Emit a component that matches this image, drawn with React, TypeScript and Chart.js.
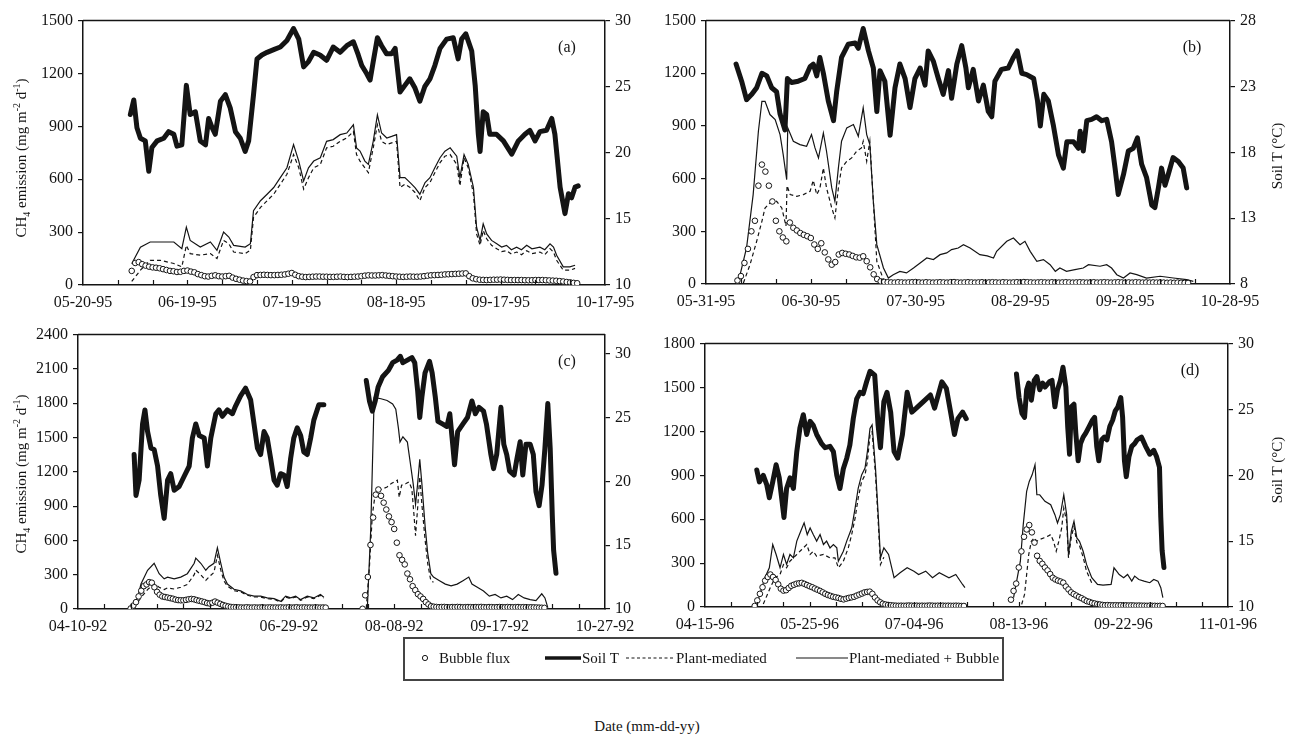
import React, { useEffect, useRef } from "react";
import { Chart, registerables } from "chart.js";

Chart.register(...registerables);

type Pt = [number, number | null];

// ---------------- Panel (a) ----------------
const aDates = ["05-20-95", "06-19-95", "07-19-95", "08-18-95", "09-17-95", "10-17-95"];
const aFluxTicks = [0, 300, 600, 900, 1200, 1500];
const aTempTicks = [10, 15, 20, 25, 30];
const aSoilT: Pt[] = [[13.6,22.9],[14.6,24.0],[15.5,21.9],[16.5,21.1],[17.9,20.9],[18.9,18.6],[19.8,20.4],[21.3,20.9],[23.2,21.1],[24.6,21.6],[26.1,21.4],[27.0,20.5],[28.4,20.6],[29.7,25.1],[30.8,22.9],[32.3,23.1],[33.7,20.9],[35.2,20.6],[36.1,22.6],[37.1,21.9],[38.0,21.4],[39.5,23.9],[40.9,24.4],[42.3,23.4],[43.8,21.6],[45.2,21.1],[46.6,20.1],[47.6,20.9],[49.0,24.4],[50.0,27.1],[51.4,27.4],[52.9,27.6],[54.8,27.8],[56.7,28.0],[58.6,28.5],[60.5,29.4],[62.0,28.6],[63.4,26.5],[64.8,26.9],[66.3,27.6],[68.1,27.4],[70.0,27.0],[71.9,28.0],[73.9,27.6],[75.8,28.1],[77.7,28.4],[79.1,27.4],[80.1,26.6],[81.5,26.0],[82.5,25.5],[83.4,26.9],[84.6,28.7],[85.8,28.1],[87.2,27.5],[88.7,27.5],[89.7,27.9],[91.1,24.6],[92.5,25.1],[93.9,25.6],[95.4,24.9],[96.8,23.9],[98.2,25.0],[99.7,25.6],[101.1,26.6],[102.6,27.9],[104.5,28.6],[106.4,28.7],[107.8,27.1],[108.8,28.6],[110.0,29.0],[111.7,27.7],[112.7,25.1],[113.6,21.4],[114.1,20.1],[115.0,23.1],[116.0,22.9],[116.9,21.4],[118.8,21.4],[120.8,20.9],[123.2,19.9],[125.1,20.9],[127.0,21.4],[128.4,21.7],[129.9,20.9],[131.3,21.6],[133.2,21.7],[134.7,22.6],[135.6,21.4],[137.1,17.4],[138.5,15.4],[139.5,16.9],[140.4,16.6],[141.4,17.4],[142.3,17.5]];
const aPlantBubble: Pt[] = [[14,120],[16.5,215],[19.3,244],[22.2,244],[26.1,244],[28.4,206],[29.7,328],[30.8,253],[33.7,215],[36.6,244],[38.5,197],[40.4,300],[41.9,272],[43.3,225],[46.6,215],[48.1,234],[49.0,422],[51.0,478],[52.9,515],[54.8,553],[56.7,609],[58.6,665],[60.5,797],[62.0,703],[63.4,590],[64.8,665],[66.3,703],[68.2,722],[70.0,815],[71.9,825],[73.9,853],[75.8,862],[77.7,909],[78.6,778],[79.6,760],[81.0,703],[82.0,684],[83.4,815],[84.6,965],[85.8,862],[87.3,834],[88.7,843],[90.1,853],[91.1,609],[92.5,609],[94.0,581],[95.4,553],[96.8,515],[98.3,581],[99.7,609],[101.1,665],[102.6,722],[104.0,759],[105.5,778],[107.4,731],[108.3,609],[109.5,740],[110.7,684],[112.2,553],[113.1,328],[114.1,253],[115.0,347],[116.0,290],[117.4,253],[118.9,234],[120.3,215],[121.7,225],[123.1,200],[124.6,215],[126.0,200],[127.5,225],[129.0,205],[131.3,215],[132.7,200],[134.2,234],[135.2,215],[136.1,169],[138.0,103],[139.9,103],[141.4,112]];
const aPlant: Pt[] = [[14,20],[16.5,84],[19.3,140],[22.2,140],[26.1,122],[28.4,103],[29.7,225],[30.8,178],[33.7,169],[36.6,178],[38.5,150],[40.4,253],[41.9,234],[43.3,187],[46.6,178],[48.1,197],[49.0,384],[51.0,440],[52.9,478],[54.8,515],[56.7,572],[58.6,628],[60.5,740],[62.0,665],[63.4,544],[64.8,609],[66.3,665],[68.2,684],[70.0,778],[71.9,787],[73.9,815],[75.8,834],[77.7,871],[78.6,740],[79.6,703],[81.0,665],[82.0,637],[83.4,778],[84.6,909],[85.8,815],[87.3,797],[88.7,806],[90.1,815],[91.1,553],[92.5,572],[94.0,553],[95.4,525],[96.8,478],[98.3,553],[99.7,581],[101.1,637],[102.6,694],[104.0,731],[105.5,740],[107.4,684],[108.3,562],[109.5,722],[110.7,665],[112.2,515],[113.1,290],[114.1,225],[115.0,309],[116.0,262],[117.4,225],[118.9,206],[120.3,190],[121.7,195],[123.1,175],[124.6,187],[126.0,172],[127.5,195],[129.0,178],[131.3,187],[132.7,172],[134.2,206],[135.2,187],[136.1,140],[138.0,84],[139.9,84],[141.4,94]];
const aBubbleFirstDay = 14;
const aBubble: (number | null)[] = [80,125,130,118,110,104,100,98,95,90,85,80,78,74,75,80,82,76,72,62,56,50,48,52,55,50,48,50,52,42,35,30,25,22,20,45,56,57,58,57,56,56,57,58,60,64,68,58,50,47,45,46,47,48,48,47,47,46,46,47,48,46,45,46,47,48,50,53,55,54,54,55,56,54,52,50,48,47,46,47,48,47,47,48,50,53,55,56,57,58,60,61,62,63,64,65,66,50,38,33,30,29,28,29,30,30,31,30,29,28,28,28,28,27,27,27,28,28,28,27,26,25,24,22,20,17,15,12,10];

// ---------------- Panel (b) ----------------
const bDates = ["05-31-95", "06-30-95", "07-30-95", "08-29-95", "09-28-95", "10-28-95"];
const bFluxTicks = [0, 300, 600, 900, 1200, 1500];
const bTempTicks = [8, 13, 18, 23, 28];
const bSoilT: Pt[] = [[8.6,24.7],[10.2,23.4],[11.6,22.0],[13.1,22.4],[14.5,22.9],[16.0,24.0],[17.4,23.8],[18.8,22.9],[20.2,22.6],[21.2,20.9],[22.6,19.7],[23.3,23.6],[24.5,23.3],[26.4,23.4],[28.3,23.6],[29.8,24.5],[30.7,24.7],[31.7,23.8],[32.6,25.2],[33.6,24.0],[35.0,21.9],[36.5,20.4],[37.4,22.6],[38.8,25.2],[40.7,26.2],[42.7,26.3],[43.6,25.9],[45.0,27.4],[46.5,25.7],[47.9,24.4],[48.9,21.1],[49.8,24.2],[51.2,23.4],[52.7,19.3],[54.1,22.9],[55.5,24.7],[57.0,23.6],[58.4,21.4],[59.8,23.6],[61.3,24.4],[62.7,23.1],[63.6,25.7],[65.1,24.9],[66.5,23.6],[67.9,22.4],[69.4,24.2],[70.3,22.1],[71.8,24.7],[73.2,26.1],[74.4,24.4],[75.1,22.9],[76.5,24.3],[78.0,21.9],[79.4,23.1],[80.8,21.1],[81.8,20.7],[82.7,23.4],[84.6,24.3],[86.5,24.4],[88.0,25.2],[89.1,25.7],[90.4,24.0],[91.8,23.9],[93.8,23.6],[94.9,21.9],[95.7,20.0],[96.7,22.4],[98.0,21.9],[99.4,20.1],[100.9,17.8],[102.3,16.8],[103.3,18.8],[105.2,18.8],[106.6,18.3],[107.1,19.6],[108.0,18.1],[109.0,20.4],[110.4,20.5],[111.8,20.7],[113.3,20.4],[114.7,20.5],[116.1,18.8],[117.1,16.8],[118.0,14.8],[119.5,16.3],[120.9,18.1],[122.3,18.3],[123.5,19.1],[124.7,17.1],[126.1,16.1],[127.6,14.0],[128.5,13.8],[129.5,15.3],[130.4,16.8],[131.4,15.5],[132.3,16.3],[133.7,17.6],[135.2,17.3],[136.6,16.8],[137.6,15.3]];
const bPlantBubble: Pt[] = [[9.3,15],[11.6,205],[13.5,509],[15.0,870],[16.0,1040],[16.9,1040],[18.3,965],[19.8,936],[21.2,851],[22.1,737],[23.1,594],[23.4,889],[25.0,813],[26.9,794],[28.8,784],[30.2,851],[31.2,775],[32.2,718],[33.6,860],[34.5,756],[36.0,547],[36.9,471],[37.9,661],[38.8,813],[40.3,889],[42.2,908],[43.6,841],[45.0,1003],[46.0,851],[46.9,794],[47.9,471],[48.9,224],[50.8,91],[52.2,34],[53.6,53],[55.5,72],[57.4,63],[59.4,91],[61.3,120],[63.2,148],[65.1,139],[67.0,167],[68.9,177],[70.3,196],[72.2,205],[73.7,224],[75.6,205],[78.4,167],[80.5,160],[82.3,148],[83.2,186],[86.1,243],[88.0,262],[89.9,224],[91.3,243],[92.8,186],[94.7,129],[96.6,139],[98.5,110],[100.0,72],[101.3,91],[103.2,72],[105.6,82],[108.0,91],[109.5,110],[112.8,101],[114.7,110],[116.1,91],[117.6,53],[119.5,34],[121.4,63],[123.3,53],[126.1,34],[130.0,44],[133.8,34],[137.6,25],[139.5,15]];
const bPlant: Pt[] = [[10.7,6],[12.6,110],[14.5,243],[16.0,357],[16.9,433],[18.3,461],[20.2,471],[21.7,433],[22.9,330],[23.2,560],[24.1,509],[26.0,499],[27.9,509],[29.8,528],[30.7,590],[31.7,509],[32.6,545],[33.6,661],[34.5,547],[36.0,433],[36.9,376],[37.9,547],[38.8,661],[40.3,699],[41.7,718],[43.1,756],[44.5,775],[45.0,813],[46.0,699],[46.9,813],[47.9,471],[48.9,129],[50.8,25],[52.7,6]];
const bBubbleFirstDay = 9;
const bBubble: (number | null)[] = [20,45,120,200,300,360,560,680,640,560,470,360,300,265,243,350,320,305,290,280,272,262,225,200,232,180,140,110,125,168,177,172,168,160,152,150,158,130,95,55,28,15,12,10,9,8,10,9,8,9,10,11,9,8,10,9,8,9,10,9,8,10,11,9,8,9,10,9,8,9,10,8,9,10,9,8,10,9,8,9,10,9,11,10,9,8,9,10,9,8,10,9,8,9,10,9,8,9,10,9,8,9,10,8,9,10,9,8,9,10,9,8,9,8,10,9,8,9,8,9,8,9,8,7,8,7,8,7,6,6];

// ---------------- Panel (c) ----------------
const cDates = ["04-10-92", "05-20-92", "06-29-92", "08-08-92", "09-17-92", "10-27-92"];
const cFluxTicks = [0, 300, 600, 900, 1200, 1500, 1800, 2100, 2400];
const cTempTicks = [10, 15, 20, 25, 30];
const cSoilT: Pt[] = [[21.3,22.1],[22.0,18.9],[23.2,20.1],[24.5,24.5],[25.4,25.6],[26.4,23.9],[27.7,22.6],[28.9,22.5],[30.2,21.2],[31.4,18.9],[32.7,17.1],[34.0,20.1],[35.2,20.6],[36.5,19.3],[38.4,19.6],[40.3,20.4],[42.2,21.2],[43.4,23.4],[44.7,24.5],[46.0,23.6],[47.9,23.4],[49.1,21.2],[50.4,23.4],[52.3,25.3],[53.5,25.6],[54.8,25.1],[56.7,25.6],[58.6,25.3],[59.8,25.9],[61.7,26.7],[63.6,27.3],[65.5,26.4],[66.8,24.5],[68.1,22.6],[69.3,22.1],[70.6,23.9],[71.8,23.4],[73.1,21.8],[74.4,20.1],[75.6,19.7],[76.9,20.6],[78.2,20.5],[79.4,19.6],[80.7,21.8],[81.9,23.4],[83.2,24.2],[84.5,23.6],[85.7,22.3],[87.0,22.1],[88.3,23.4],[89.5,24.8],[91.4,26.0],[93.3,26.0],[100,null],[109.4,27.9],[110.6,26.3],[111.7,25.5],[112.8,26.3],[113.9,27.4],[115.6,28.2],[117.8,28.7],[119.4,29.3],[121.1,29.5],[122.3,29.8],[123.3,29.3],[125.0,29.5],[126.7,29.7],[127.8,29.3],[128.9,27.1],[129.7,25.0],[130.5,26.6],[131.7,28.5],[133.4,29.4],[134.4,28.5],[135.6,26.6],[136.6,24.7],[138.3,24.5],[140.0,24.3],[141.1,25.3],[142.2,22.9],[142.9,21.3],[144.1,23.9],[146.1,24.5],[147.8,25.0],[149.5,26.3],[150.8,25.3],[152.2,25.8],[153.9,25.5],[155.0,24.5],[156.7,22.1],[157.7,21.0],[158.9,22.1],[160.5,25.8],[161.6,22.9],[162.7,22.1],[163.8,20.8],[165.5,20.5],[166.6,21.8],[167.8,23.1],[168.8,20.5],[170.0,22.9],[171.6,22.9],[172.8,22.1],[173.8,19.2],[175.0,18.1],[176.1,19.7],[177.2,22.6],[178.3,26.1],[179.2,22.6],[180.0,17.3],[180.5,14.6],[181.4,12.8]];
const cPlantBubble: Pt[] = [[20.7,15],[22.6,97],[23.9,218],[26.4,339],[28.9,400],[30.8,309],[32.7,264],[34.0,279],[36.5,264],[39.0,279],[41.5,309],[44.1,400],[44.7,445],[46.6,400],[48.5,339],[49.7,370],[51.6,400],[52.9,536],[54.2,400],[55.4,279],[56.7,218],[59.2,173],[61.7,158],[64.3,127],[66.8,112],[69.3,112],[71.8,97],[74.4,91],[76.9,67],[78.8,112],[80.7,97],[82.6,112],[84.5,82],[87.0,112],[89.5,97],[92.0,127],[93.3,103],[100,null],[109.8,5],[111.1,700],[112.4,1850],[115.0,1839],[117.3,1824],[119.4,1794],[120.6,1748],[121.6,1582],[122.2,1460],[123.3,1506],[125.0,1460],[126.1,1279],[127.2,1097],[128.1,915],[128.9,1097],[129.7,1309],[130.5,1097],[131.7,733],[132.7,491],[133.9,309],[134.9,279],[137.2,248],[139.4,218],[141.6,203],[143.9,218],[146.1,248],[148.3,279],[149.5,218],[151.7,188],[153.9,158],[156.1,112],[158.3,127],[160.5,97],[162.7,112],[164.9,82],[167.1,127],[169.3,97],[171.6,82],[173.8,73],[176.0,133],[177.2,97],[178.3,12]];
const cPlant: Pt[] = [[21.3,15],[23.9,100],[26.4,170],[28.9,220],[30.8,190],[32.7,170],[34.0,185],[36.5,175],[39.0,190],[41.5,215],[44.1,300],[44.7,340],[46.6,300],[48.5,250],[49.7,280],[51.6,320],[52.9,470],[54.2,340],[55.4,245],[56.7,200],[59.2,160],[61.7,150],[64.3,120],[66.8,105],[69.3,105],[71.8,90],[74.4,85],[76.9,60],[78.8,105],[80.7,90],[82.6,105],[84.5,75],[87.0,105],[89.5,90],[92.0,120],[93.3,95],[100,null],[109.4,6],[110.6,370],[111.7,824],[112.8,1006],[113.9,1036],[115.6,1051],[117.3,1067],[118.9,1097],[120.1,1112],[121.2,1127],[121.9,976],[122.8,1082],[124.5,1097],[125.6,1112],[126.7,1051],[127.5,824],[128.1,642],[128.9,885],[129.7,1157],[130.5,915],[131.7,612],[132.7,400],[133.9,248],[134.9,233]];
const cBubbleFirstDay = 20;
const cBubble: (number | null)[] = [5,30,60,110,160,200,215,235,230,190,150,125,110,105,100,95,90,82,78,76,76,80,85,88,85,78,72,66,60,52,48,55,65,55,45,35,28,22,18,16,15,14,13,12,15,13,12,14,12,13,15,12,13,14,12,13,12,14,12,13,14,12,13,15,12,13,14,12,13,12,14,13,12,13,12,null,null,null,null,null,null,null,null,null,null,null,null,null,2,120,280,560,800,1000,1045,990,930,870,810,760,700,580,470,430,390,310,260,200,165,130,110,88,60,40,24,20,18,16,17,18,16,15,17,16,18,17,15,16,17,16,15,17,16,18,16,15,17,16,15,16,17,16,15,17,16,15,16,17,15,16,15,14,15,14,13,12,11,10];

// ---------------- Panel (d) ----------------
const dDates = ["04-15-96", "05-25-96", "07-04-96", "08-13-96", "09-22-96", "11-01-96"];
const dFluxTicks = [0, 300, 600, 900, 1200, 1500, 1800];
const dTempTicks = [10, 15, 20, 25, 30];
const dSoilT: Pt[] = [[19.8,20.4],[20.8,19.5],[22.3,20.0],[23.6,19.3],[24.6,18.3],[25.9,19.5],[27.2,20.8],[28.4,19.8],[29.3,18.3],[30.2,16.8],[31.2,19.0],[32.5,19.8],[33.8,19.0],[35.1,21.8],[36.3,23.6],[37.6,24.6],[38.9,23.1],[40.2,24.1],[41.4,23.8],[42.7,23.1],[44.6,22.4],[45.9,22.1],[47.8,22.2],[49.1,21.8],[50.4,20.0],[51.6,19.0],[52.9,20.5],[54.2,21.3],[55.4,22.3],[56.7,24.3],[58.0,25.8],[59.3,26.3],[60.5,26.2],[61.8,27.1],[63.1,27.9],[64.9,27.6],[66.2,23.8],[67.1,22.1],[68.4,25.6],[69.6,26.3],[71.0,24.8],[72.3,21.8],[73.7,21.3],[75.5,23.1],[77.3,26.3],[79.1,24.8],[80.8,25.1],[83.5,25.6],[86.2,26.1],[87.8,25.1],[90.6,27.1],[92.3,26.6],[94.1,24.6],[95.4,23.1],[96.7,24.3],[98.5,24.8],[99.9,24.3],[108,null],[119.1,27.7],[120.1,25.9],[121.2,24.7],[122.2,24.4],[123.0,26.5],[123.8,27.0],[124.8,25.7],[125.9,27.2],[126.9,27.5],[128.0,26.5],[129.1,27.0],[130.0,26.7],[131.7,27.1],[132.7,27.2],[133.8,25.2],[134.8,26.5],[135.9,27.2],[136.9,28.2],[138.0,26.7],[138.7,23.7],[139.4,21.6],[140.1,25.2],[141.1,25.4],[141.8,23.2],[142.7,21.1],[143.6,22.4],[144.6,22.9],[145.6,23.2],[146.9,23.7],[148.2,24.2],[149.0,24.4],[149.8,22.2],[150.6,21.1],[151.7,22.7],[152.7,22.9],[153.7,22.7],[154.8,23.7],[155.9,24.2],[156.9,24.9],[157.9,25.2],[159.0,25.9],[159.7,24.4],[160.4,21.1],[161.1,19.9],[162.1,21.4],[163.2,22.2],[164.3,22.4],[165.3,22.7],[166.9,22.9],[168.5,22.2],[170.1,21.6],[171.6,21.9],[172.7,21.4],[173.8,20.6],[174.3,16.8],[174.8,14.3],[175.5,13.0]];
const dPlantBubble: Pt[] = [[19.5,7],[21.0,86],[22.9,200],[24.6,268],[25.9,427],[27.2,359],[28.7,268],[30.0,359],[31.2,291],[32.5,359],[33.8,336],[35.1,450],[36.6,518],[37.9,575],[39.1,495],[40.2,540],[41.4,495],[42.7,450],[44.0,495],[45.3,427],[46.5,450],[47.8,404],[49.1,427],[50.4,404],[51.0,313],[52.9,381],[54.2,450],[56.1,540],[57.4,676],[58.6,813],[59.9,903],[61.2,949],[62.1,1062],[63.1,1221],[63.9,1244],[65.2,949],[66.3,608],[67.1,336],[68.4,404],[70.2,359],[72.3,200],[74.6,234],[77.3,268],[79.9,245],[81.7,222],[84.4,245],[87.0,200],[89.6,234],[93.3,200],[95.9,222],[98.5,154],[99.4,132],[108,null],[118.0,64],[120.6,313],[121.7,563],[123.0,790],[124.0,858],[125.1,903],[126.2,972],[126.9,767],[128.0,767],[130.0,722],[132.2,699],[133.8,631],[134.8,574],[135.9,631],[137.2,767],[138.3,631],[139.0,359],[140.1,518],[141.1,586],[142.2,472],[143.2,449],[144.6,381],[145.9,291],[147.9,200],[150.1,154],[152.2,150],[155.3,154],[156.4,268],[157.4,245],[158.4,222],[160.1,200],[161.6,222],[163.2,177],[164.3,211],[165.9,188],[167.9,177],[170.1,166],[171.6,188],[173.2,177],[174.3,132],[175.1,64]];
const dPlant: Pt[] = [[22.3,20],[24.9,130],[26.8,200],[28.7,222],[30.0,290],[31.2,268],[32.5,313],[35.1,359],[37.0,393],[38.9,427],[40.2,359],[41.4,381],[42.7,347],[45.3,359],[47.8,336],[49.7,336],[51.0,268],[52.9,313],[54.8,404],[56.1,495],[57.4,608],[58.6,745],[59.9,858],[61.2,903],[62.1,994],[63.1,1176],[63.9,1199],[65.2,903],[66.3,563],[67.1,290],[68.4,340],[108,null],[121.1,18],[122.2,86],[123.0,222],[123.8,359],[124.8,449],[125.9,472],[126.9,449],[128.0,461],[129.5,472],[131.1,484],[132.2,495],[133.3,449],[134.3,381],[135.3,449],[136.4,540],[137.2,676],[138.3,586],[139.0,336],[140.1,480],[141.1,550],[142.2,440],[143.2,420],[144.6,340],[145.9,245],[147.9,165]];
const dBubbleFirstDay = 19;
const dBubble: (number | null)[] = [7,45,90,135,180,205,222,205,185,155,125,112,115,130,145,152,159,162,165,158,150,142,135,126,118,110,100,90,82,76,70,66,62,56,52,57,62,66,70,78,85,92,100,103,105,90,65,45,32,22,17,14,12,10,9,8,9,8,9,10,9,8,9,8,9,8,9,10,9,8,9,8,9,8,9,8,8,9,8,7,7,null,null,null,null,null,null,null,null,null,null,null,null,null,null,null,null,null,50,110,160,270,380,480,530,560,510,440,350,315,295,270,250,225,200,188,180,174,166,140,120,100,88,78,68,60,50,40,35,28,24,20,17,14,12,13,12,11,12,11,12,10,11,10,11,10,9,10,9,9,8,9,8,8,7,8,7];

const SERIF = "'Liberation Serif', 'Times New Roman', serif";
const INK = "#141414";

interface PanelProps {
  letter: string;
  left: number; top: number; right: number; bottom: number;
  dates: string[]; dayStep: number; dayMax: number;
  fluxMax: number; fluxTicks: number[];
  tempMin: number; tempMax: number; tempTicks: number[];
  soil: Pt[]; total: Pt[]; plant: Pt[];
  bubbleStart: number; bubble: (number | null)[];
}

const PL = 72, PR = 46, PT = 12, PB = 40;

function Panel(p: PanelProps) {
  const ref = useRef<HTMLCanvasElement>(null);
  const w = p.right - p.left + PL + PR;
  const h = p.bottom - p.top + PT + PB;
  useEffect(() => {
    const toXY = (pts: Pt[]) => pts.map(([x, y]) => ({ x, y }));
    const bub = p.bubble.map((y, i) => ({ x: p.bubbleStart + i, y }));
    const tickFont = { family: SERIF, size: 16 };
    const frame = {
      id: "frame",
      afterDraw(chart: any) {
        const { ctx, chartArea: a, scales } = chart;
        ctx.save();
        ctx.strokeStyle = INK;
        ctx.lineWidth = 1.5;
        ctx.beginPath();
        ctx.moveTo(a.left, a.top);
        ctx.lineTo(a.right, a.top);
        ctx.stroke();
        ctx.lineWidth = 1.2;
        for (let d = 10; d < p.dayMax; d += 10) {
          const x = Math.round(scales.x.getPixelForValue(d)) + 0.5;
          ctx.beginPath();
          ctx.moveTo(x, a.bottom);
          ctx.lineTo(x, a.bottom - 5);
          ctx.stroke();
        }
        ctx.fillStyle = INK;
        ctx.font = `16px ${SERIF}`;
        ctx.textAlign = "center";
        ctx.textBaseline = "middle";
        ctx.fillText(p.letter, a.right - 38, a.top + 27);
        ctx.restore();
      },
    };
    const chart = new Chart(ref.current as HTMLCanvasElement, {
      type: "line",
      data: {
        datasets: [
          { label: "Bubble flux", data: bub, yAxisID: "y", showLine: false, pointStyle: "circle", pointRadius: 2.8, pointBackgroundColor: "#fff", pointBorderColor: INK, pointBorderWidth: 1, borderColor: INK, order: 0 },
          { label: "Plant-mediated + Bubble", data: toXY(p.total), yAxisID: "y", borderColor: INK, borderWidth: 1.2, pointRadius: 0, order: 1 },
          { label: "Plant-mediated", data: toXY(p.plant), yAxisID: "y", borderColor: INK, borderWidth: 1.2, borderDash: [4, 3], pointRadius: 0, order: 2 },
          { label: "Soil T", data: toXY(p.soil), yAxisID: "t", borderColor: INK, borderWidth: 5, borderJoinStyle: "round", borderCapStyle: "round", pointRadius: 0, order: 3 },
        ] as any,
      },
      options: {
        animation: false,
        responsive: false,
        maintainAspectRatio: false,
        spanGaps: false,
        layout: { padding: { top: PT, left: 0, right: 0, bottom: 0 } },
        plugins: { legend: { display: false }, tooltip: { enabled: false } },
        elements: { line: { tension: 0 } },
        scales: {
          x: {
            type: "linear", min: 0, max: p.dayMax,
            afterBuildTicks: (s: any) => { s.ticks = p.dates.map((_, i) => ({ value: i * p.dayStep })); },
            afterFit: (s: any) => { s.height = PB; },
            grid: { display: true, drawOnChartArea: false, drawTicks: false, color: INK },
            border: { display: true, color: INK, width: 1.5 },
            ticks: { color: INK, font: tickFont, padding: 8, maxRotation: 0, autoSkip: false,
              callback: (v: any) => p.dates[Math.round(Number(v) / p.dayStep)] ?? "" },
          },
          y: {
            type: "linear", position: "left", min: 0, max: p.fluxMax,
            afterBuildTicks: (s: any) => { s.ticks = p.fluxTicks.map((v) => ({ value: v })); },
            afterFit: (s: any) => { s.width = PL; },
            grid: { drawOnChartArea: false, drawTicks: true, tickLength: 5, color: INK, lineWidth: 1.2 },
            border: { display: true, color: INK, width: 1.5 },
            ticks: { color: INK, font: tickFont, padding: 5, callback: (v: any) => String(v) },
          },
          t: {
            type: "linear", position: "right", min: p.tempMin, max: p.tempMax,
            afterBuildTicks: (s: any) => { s.ticks = p.tempTicks.map((v) => ({ value: v })); },
            afterFit: (s: any) => { s.width = PR; },
            grid: { drawOnChartArea: false, drawTicks: true, tickLength: 5, color: INK, lineWidth: 1.2 },
            border: { display: true, color: INK, width: 1.5 },
            ticks: { color: INK, font: tickFont, padding: 5, callback: (v: any) => String(v) },
          },
        },
      } as any,
      plugins: [frame],
    });
    return () => chart.destroy();
  }, []);
  return (
    <canvas
      ref={ref}
      width={w}
      height={h}
      style={{ position: "absolute", left: p.left - PL, top: p.top - PT, width: w, height: h }}
    />
  );
}

function FluxTitle({ x, y }: { x: number; y: number }) {
  return (
    <div style={{ position: "absolute", left: x, top: y, transform: "translate(-50%, -50%) rotate(-90deg)", whiteSpace: "nowrap", fontSize: 15, lineHeight: "18px" }}>
      CH<sub style={{ fontSize: 10 }}>4</sub> emission (mg m<sup style={{ fontSize: 10 }}>-2</sup> d<sup style={{ fontSize: 10 }}>-1</sup>)
    </div>
  );
}

function TempTitle({ x, y }: { x: number; y: number }) {
  return (
    <div style={{ position: "absolute", left: x, top: y, transform: "translate(-50%, -50%) rotate(-90deg)", whiteSpace: "nowrap", fontSize: 15 }}>
      Soil T (°C)
    </div>
  );
}

export default function App() {
  const lbl: React.CSSProperties = { position: "absolute", top: 658, transform: "translateY(-50%)", fontSize: 15, whiteSpace: "nowrap" };
  return (
    <div style={{ position: "absolute", left: 0, top: 0, width: 1293, height: 750, background: "#fff", color: INK, fontFamily: SERIF, overflow: "hidden" }}>
      <Panel letter="(a)" left={83} top={18} right={605} bottom={285}
        dates={aDates} dayStep={30} dayMax={150} fluxMax={1500} fluxTicks={aFluxTicks}
        tempMin={10} tempMax={30} tempTicks={aTempTicks}
        soil={aSoilT} total={aPlantBubble} plant={aPlant}
        bubbleStart={aBubbleFirstDay} bubble={aBubble} />
      <Panel letter="(b)" left={706} top={18} right={1230} bottom={284}
        dates={bDates} dayStep={30} dayMax={150} fluxMax={1500} fluxTicks={bFluxTicks}
        tempMin={8} tempMax={28} tempTicks={bTempTicks}
        soil={bSoilT} total={bPlantBubble} plant={bPlant}
        bubbleStart={bBubbleFirstDay} bubble={bBubble} />
      <Panel letter="(c)" left={78} top={332} right={605} bottom={609}
        dates={cDates} dayStep={40} dayMax={200} fluxMax={2400} fluxTicks={cFluxTicks}
        tempMin={10} tempMax={31.5} tempTicks={cTempTicks}
        soil={cSoilT} total={cPlantBubble} plant={cPlant}
        bubbleStart={cBubbleFirstDay} bubble={cBubble} />
      <Panel letter="(d)" left={705} top={341} right={1228} bottom={607}
        dates={dDates} dayStep={40} dayMax={200} fluxMax={1800} fluxTicks={dFluxTicks}
        tempMin={10} tempMax={30} tempTicks={dTempTicks}
        soil={dSoilT} total={dPlantBubble} plant={dPlant}
        bubbleStart={dBubbleFirstDay} bubble={dBubble} />

      <FluxTitle x={22} y={158} />
      <FluxTitle x={22} y={474} />
      <TempTitle x={1277} y={156} />
      <TempTitle x={1277} y={470} />

      <div style={{ position: "absolute", left: 403, top: 637, width: 597, height: 40, border: "2px solid #444" }} />
      <svg style={{ position: "absolute", left: 418, top: 652 }} width={14} height={12}>
        <circle cx={7} cy={6} r={2.6} fill="#fff" stroke={INK} strokeWidth={1} />
      </svg>
      <div style={{ ...lbl, left: 439 }}>Bubble flux</div>
      <svg style={{ position: "absolute", left: 545, top: 652 }} width={36} height={12}>
        <line x1={0} y1={6} x2={36} y2={6} stroke={INK} strokeWidth={3.5} />
      </svg>
      <div style={{ ...lbl, left: 582 }}>Soil T</div>
      <svg style={{ position: "absolute", left: 626, top: 652 }} width={48} height={12}>
        <line x1={0} y1={6} x2={48} y2={6} stroke={INK} strokeWidth={1.2} strokeDasharray="3 2.5" />
      </svg>
      <div style={{ ...lbl, left: 676 }}>Plant-mediated</div>
      <svg style={{ position: "absolute", left: 796, top: 652 }} width={52} height={12}>
        <line x1={0} y1={6} x2={52} y2={6} stroke={INK} strokeWidth={1.2} />
      </svg>
      <div style={{ ...lbl, left: 849 }}>Plant-mediated + Bubble</div>

      <div style={{ position: "absolute", left: 647, top: 726, transform: "translate(-50%, -50%)", fontSize: 15, whiteSpace: "nowrap" }}>
        Date (mm-dd-yy)
      </div>
    </div>
  );
}
